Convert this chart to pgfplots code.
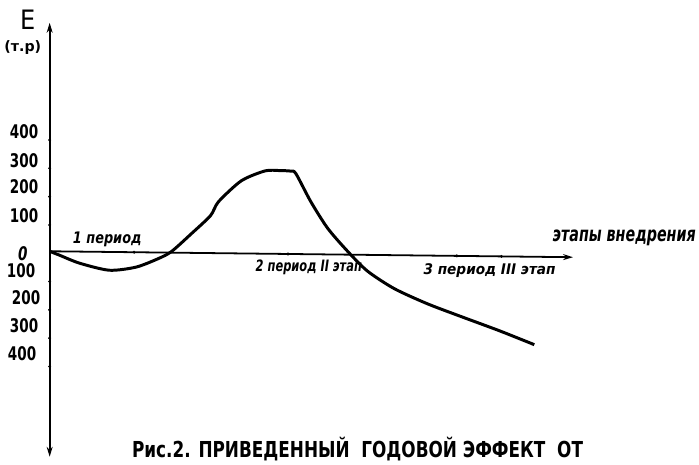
\documentclass[border=0pt]{standalone}
\usepackage{pgfplots}
\pgfplotsset{compat=1.18}
\usepackage{fontspec}
\setmainfont{DejaVu Sans Condensed}
\usetikzlibrary{arrows.meta}
\newcommand{\ytl}[1]{\scalebox{0.8}[1]{\bfseries\fontsize{19}{19}\selectfont #1}}
\newcommand{\lbl}[3]{\resizebox*{#1bp}{#2bp}{\bfseries\itshape #3}}
\begin{document}
\begin{tikzpicture}
\begin{axis}[scale only axis, width=699bp, height=463bp,
  xmin=-50, xmax=649, ymin=-729.8, ymax=894.7,
  hide axis, clip=false]
% axes
\addplot[line width=1.8bp, black, -{Stealth[length=10bp,width=6bp]}] coordinates {(0,7) (527,-14)};
\addplot[line width=1.8bp, black, {Stealth[length=10bp,width=6bp]}-{Stealth[length=10bp,width=6bp]}] coordinates {(0,-719) (0,814)};
% tick dots
\addplot[only marks, mark=*, mark size=1.3bp, black] coordinates {
 (0,100) (0,200) (0,300) (0,400) (0,-100) (0,-200) (0,-300) (0,-400)
 (85,3.6) (240,-2.6) (410,-9.3) (455,-11.1)};
% curve
\addplot[line width=3bp, black, smooth, tension=0.45] coordinates {
 (0,7) (10,-7) (30,-35) (60,-60) (87,-49) (110,-18) (123,7) (143,70)
 (162,133) (170,182) (193,256) (217,291) (232,292) (243,290) (248,281)
 (263,182) (280,88) (300,7) (320,-63) (347,-125) (380,-178) (413,-222)
 (453,-274) (488,-323)};
% y tick labels
\node[anchor=east] at (-8,428) {\ytl{400}};
\node[anchor=east] at (-8,326) {\ytl{300}};
\node[anchor=east] at (-8,235) {\ytl{200}};
\node[anchor=east] at (-8,133) {\ytl{100}};
\node at (-27,0) {\ytl{\itshape 0}};
\node[anchor=east] at (-11,-60) {\ytl{100}};
\node[anchor=east] at (-6,-158) {\ytl{200}};
\node[anchor=east] at (-8,-256) {\ytl{300}};
\node[anchor=east] at (-10,-354) {\ytl{400}};
% axis titles
\node at (-22,825) {\fontsize{27}{27}\selectfont E};
\node at (-27,728) {\resizebox*{37bp}{14bp}{\bfseries (т.р)}};
% stage labels
\node at (58,49) {\lbl{69}{15}{1 период}};
\node at (261,-49) {\lbl{107}{15}{2 период II этап}};
\node at (443,-60) {\lbl{133}{14}{3 период III этап}};
\node[anchor=west] at (503,53) {\lbl{144}{16}{этапы внедрения}};
% caption
\node at (310,-691) {\resizebox*{454bp}{24bp}{\bfseries Рис.2. ПРИВЕДЕННЫЙ\ \ ГОДОВОЙ ЭФФЕКТ\ \ ОТ}};
\path (rel axis cs:0,0) (rel axis cs:1,1);
\end{axis}
\end{tikzpicture}
\end{document}
